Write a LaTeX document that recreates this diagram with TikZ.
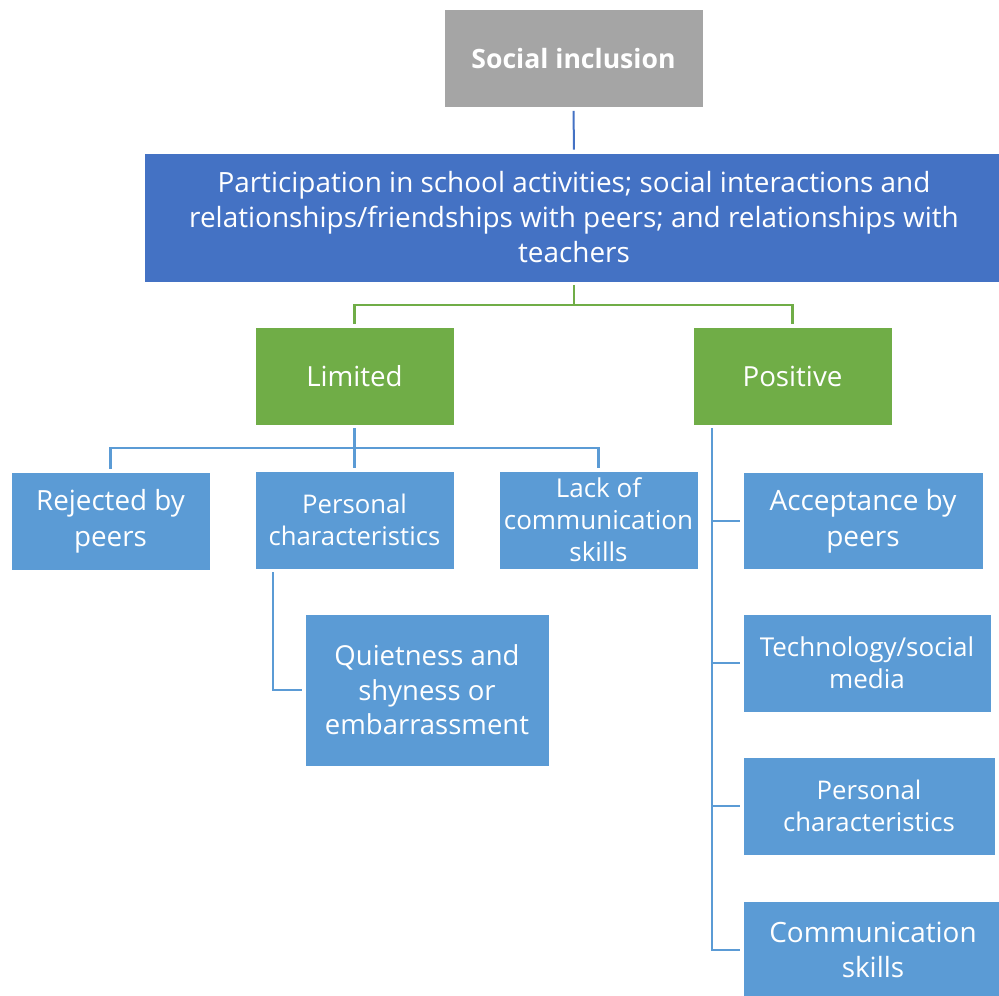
\documentclass[tikz,border=0pt]{standalone}
\usepackage{fontspec}
\setmainfont{Open Sans}
\usepackage{tikz}
\usetikzlibrary{positioning,calc}
\definecolor{incgray}{rgb}{0.647, 0.647, 0.647}
\definecolor{partblue}{rgb}{0.267, 0.447, 0.769}
\definecolor{limgreen}{rgb}{0.439, 0.678, 0.278}
\definecolor{itemblue}{rgb}{0.357, 0.608, 0.835}
\tikzset{
	box/.style={rectangle,draw=white,line width=0.8pt,text=white,align=center,inner sep=0pt},
	wire/.style={line width=2.4pt,shorten <=3pt,shorten >=3pt}
}
\newcommand{\fs}[2]{\fontsize{#1}{#2}\selectfont}

\begin{document}
\begin{tikzpicture}[x=1pt,y=-1pt]
		
		\useasboundingbox (0,0) rectangle (999,996);
		
		\node[box,fill=incgray,minimum width=259pt,minimum height=98pt,font=\fs{26.6}{34}\bfseries] (SI) at (573.5,58.5) {Social inclusion};
		
		\node[box,fill=partblue,minimum width=860pt,minimum height=129pt,font=\fs{27.9}{35}] (PA) at (574,217.5) {Participation in school activities; social interactions and\\ relationships/friendships with peers; and relationships with\\ teachers};
		
		\node[box,fill=limgreen,minimum width=199pt,minimum height=98pt,font=\fs{27.7}{35}] (LI) at (354.5,376) {Limited};
		\node[box,fill=limgreen,minimum width=199pt,minimum height=98pt,font=\fs{27.7}{35}] (PO) at (792.5,376) {Positive};
		
		% limited side
		\node[box,fill=itemblue,minimum width=199pt,minimum height=98pt,font=\fs{27.8}{36}] (RE) at (110.5,521) {Rejected by\\ peers};
		\node[box,fill=itemblue,minimum width=199pt,minimum height=98pt,font=\fs{25.7}{32}] (PC) at (354.5,520) {Personal\\ characteristics};
		\node[box,fill=itemblue,minimum width=199pt,minimum height=98pt,font=\fs{26}{32}] (LC) at (598.5,520) {Lack of\\ communication\\ skills};
		\node[box,fill=itemblue,minimum width=244pt,minimum height=152pt,font=\fs{27.5}{34.5}] (QS) at (427,690) {Quietness and\\ shyness or\\ embarrassment};
		
		% positive side
		\node[box,fill=itemblue,minimum width=240pt,minimum height=97pt,font=\fs{28}{36}] (AP) at (863,521) {Acceptance by\\ peers};
		\node[box,fill=itemblue,minimum width=248pt,minimum height=98pt,font=\fs{26}{32}] (TS) at (867,663) {Technology/social\\ media};
		\node[box,fill=itemblue,minimum width=252pt,minimum height=98pt,font=\fs{25.7}{32}] (PC2) at (869,806) {Personal\\ characteristics};
		\node[box,fill=itemblue,minimum width=260pt,minimum height=98pt,font=\fs{27.9}{35}] (CS) at (873,950) {Communication\\ skills};
		
		\coordinate (GB) at (0,305);
		\coordinate (BB) at (0,448);
		\coordinate (PQ) at (273,569);
		\coordinate (PB) at (712,425);
		
		\draw [partblue,wire,line width=2pt] (SI.south) -- (PA.north);
		
		\draw [limgreen,wire,shorten >=0pt] (PA.south) -- (PA.south |- GB);
		\draw [limgreen,wire,shorten <=0pt] (PA.south |- GB) -| (LI.north);
		\draw [limgreen,wire,shorten <=0pt] (PA.south |- GB) -| (PO.north);
		
		\draw [itemblue,wire,shorten >=0pt] (LI.south) -- (LI.south |- BB);
		\draw [itemblue,wire,shorten <=0pt] (LI.south |- BB) -| (RE.north);
		\draw [itemblue,wire,shorten <=0pt] (LI.south |- BB) -- (PC.north);
		\draw [itemblue,wire,shorten <=0pt] (LI.south |- BB) -| (LC.north);
		
		\draw [itemblue,wire] (PQ) |- (QS.west);
		
		\draw [itemblue,wire] (PB) |- (CS.west);
		\draw [itemblue,wire,shorten <=0pt] (PB |- AP.west) -- (AP.west);
		\draw [itemblue,wire,shorten <=0pt] (PB |- TS.west) -- (TS.west);
		\draw [itemblue,wire,shorten <=0pt] (PB |- PC2.west) -- (PC2.west);
		
\end{tikzpicture}
\end{document}
